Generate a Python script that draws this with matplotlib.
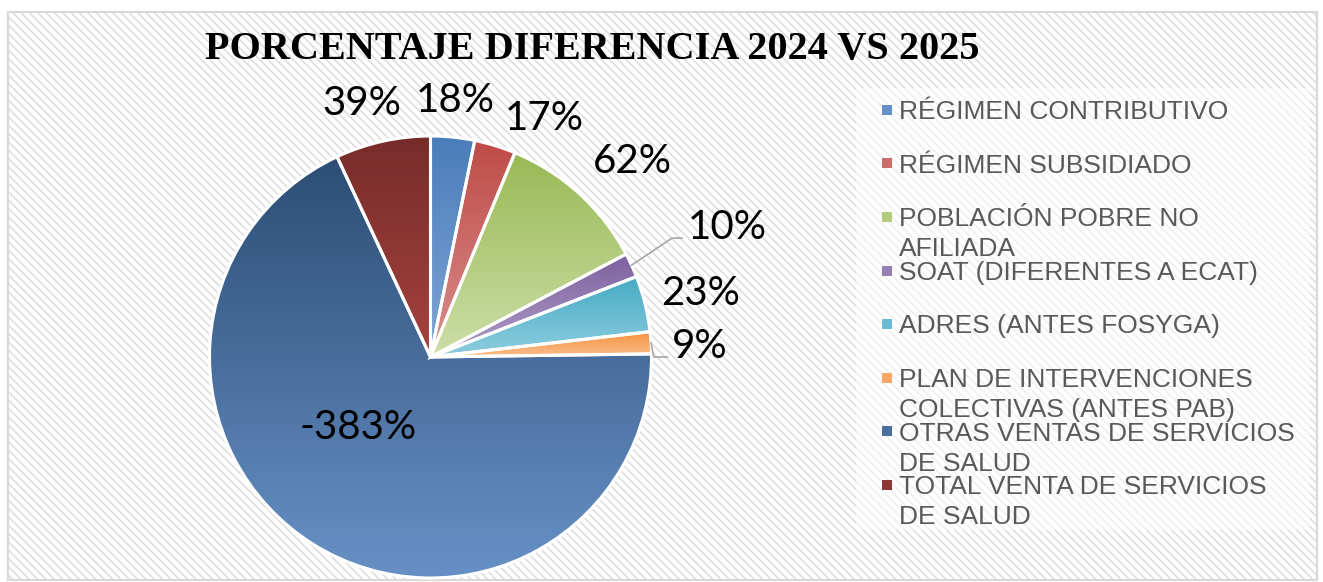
import textwrap
import numpy as np
import matplotlib
matplotlib.use('Agg')
import matplotlib.pyplot as plt
from matplotlib.colors import to_rgb
from matplotlib.patches import Rectangle

# data
categories = [
    'RÉGIMEN CONTRIBUTIVO',
    'RÉGIMEN SUBSIDIADO',
    'POBLACIÓN POBRE NO AFILIADA',
    'SOAT (DIFERENTES A ECAT)',
    'ADRES (ANTES FOSYGA)',
    'PLAN DE INTERVENCIONES COLECTIVAS (ANTES PAB)',
    'OTRAS VENTAS DE SERVICIOS DE SALUD',
    'TOTAL VENTA DE SERVICIOS DE SALUD',
]
diff_pct = [18, 17, 62, 10, 23, 9, -383, 39]
title = 'PORCENTAJE DIFERENCIA 2024 VS 2025'

# styles: vertical gradient per slice (top -> bottom)
top_colors = ['#4A7DBA', '#BE4B48', '#98B954', '#7D60A0',
              '#46AAC5', '#F69240', '#2C4D75', '#772C2A']
bottom_colors = ['#80A5D6', '#DA8F8D', '#CDDEA8', '#B1A0C8',
                 '#8FCEDF', '#F9BE8C', '#6791C6', '#A5423F']
# label anchor points (data units, pie radius = 1), baseline-centred
label_xy = [(0.111, 1.109), (0.514, 1.027), (0.912, 0.833), (1.342, 0.534),
            (1.220, 0.235), (1.220, -0.005), (-0.328, -0.371), (-0.310, 1.095)]
# leader lines: index -> (elbow, end)
leaders = {3: ((1.093, 0.538), (1.138, 0.538)),
           5: ((1.010, 0.000), (1.072, 0.000))}

W, H = 1323, 582
fig = plt.figure(figsize=(W / 100, H / 100), dpi=100)
fig.patch.set_facecolor('white')
plt.rcParams['hatch.linewidth'] = 1.1
plt.rcParams['hatch.color'] = '#DCDCDC'


def fig_xy(x, y):
    return x / W, 1 - y / H


# hatched chart area + border
fig.add_artist(Rectangle(fig_xy(8, 580), (1317 - 8) / W, (580 - 12) / H,
                         transform=fig.transFigure, facecolor='white',
                         edgecolor='#DCDCDC', hatch='\\\\\\\\', linewidth=0,
                         zorder=-3))
fig.add_artist(Rectangle(fig_xy(8, 580), (1317 - 8) / W, (580 - 12) / H,
                         transform=fig.transFigure, facecolor='none',
                         edgecolor='#D9D9D9', linewidth=1.6, zorder=-2))
# legend area (lighter)
fig.add_artist(Rectangle(fig_xy(856, 530), (1310 - 856) / W, (530 - 88) / H,
                         transform=fig.transFigure, facecolor='white',
                         edgecolor='none', alpha=0.55, zorder=-1))

# pie axes: centre (430.5, 357) px, radius 221 px
R = 221
cx, cy = 430.5, 357
span = 1.6
ax = fig.add_axes([(cx - span * R) / W, (H - cy - span * R) / H,
                   2 * span * R / W, 2 * span * R / H])

sizes = np.abs(diff_pct)
wedges, _ = ax.pie(sizes, startangle=90, counterclock=False, radius=1,
                   wedgeprops=dict(edgecolor='white', linewidth=2.2))

t = np.linspace(0, 1, 256)[:, None]
for w, c_top, c_bot in zip(wedges, top_colors, bottom_colors):
    w.set_facecolor('none')
    w.set_zorder(3)
    ext = w.get_path().get_extents()
    img = (1 - t) * np.array(to_rgb(c_top)) + t * np.array(to_rgb(c_bot))
    im = ax.imshow(img[:, None, :], extent=[ext.x0, ext.x1, ext.y0, ext.y1],
                   origin='upper', aspect='auto', interpolation='bilinear',
                   zorder=2)
    im.set_clip_path(w)

# data labels
for i, (val, (lx, ly)) in enumerate(zip(diff_pct, label_xy)):
    ax.text(lx, ly, f'{val}%', ha='center', va='baseline', fontsize=29,
            family='Lato', color='black', zorder=5)
    if i in leaders:
        w = wedges[i]
        mid = np.deg2rad((w.theta1 + w.theta2) / 2)
        start = (np.cos(mid), np.sin(mid))
        elbow, end = leaders[i]
        ax.plot([start[0], elbow[0], end[0]], [start[1], elbow[1], end[1]],
                color='#A6A6A6', linewidth=1.2, zorder=4)

ax.set_xlim(-span, span)
ax.set_ylim(-span, span)
ax.set_aspect('equal')
ax.axis('off')

# title
fig.text(592.5 / W, 1 - 59 / H, title, ha='center', va='baseline',
         fontsize=29, fontweight='bold', family='Liberation Serif',
         color='black')

# legend
for i, (lab, c_top, c_bot) in enumerate(zip(categories, top_colors, bottom_colors)):
    yc = 109.7 + 53.6 * i
    mix = 0.5 * (np.array(to_rgb(c_top)) + np.array(to_rgb(c_bot)))
    fig.add_artist(Rectangle(fig_xy(882, yc + 5), 10 / W, 10 / H,
                             transform=fig.transFigure, facecolor=mix,
                             edgecolor='none'))
    for j, line in enumerate(textwrap.wrap(lab, 26)):
        fig.text(899 / W, 1 - (yc + 9.4 + 30 * j) / H, line, ha='left',
                 va='baseline', fontsize=19, family='Liberation Sans',
                 color='#595959')

fig.savefig('out.png', dpi=100)
